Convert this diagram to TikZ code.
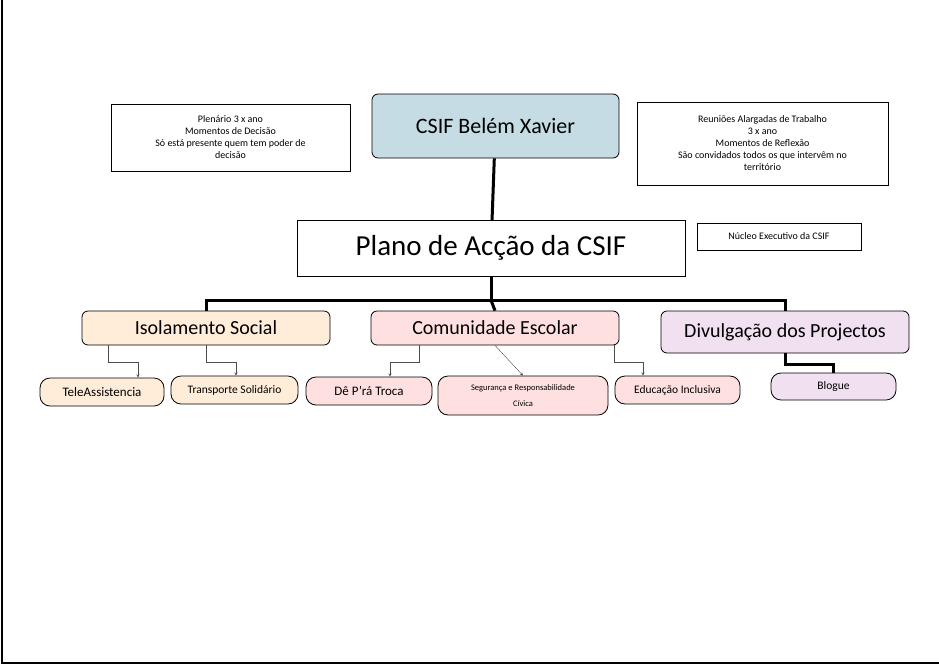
\documentclass[tikz,border=0pt]{standalone}
\usepackage{fontspec}
\setmainfont{Carlito}
\begin{document}
\begin{tikzpicture}[x=1pt,y=-1pt,
 box/.style={draw,thick,rounded corners=6pt,inner sep=0pt,align=center},
 rect/.style={draw,inner sep=0pt,align=center,font=\fontsize{10}{12}\selectfont},
 thin arrow/.style={draw=black!70,->,>=stealth},
 thick line/.style={line width=3pt}]
\useasboundingbox (0,0) rectangle (939,665);
\fill[white] (0,0) rectangle (939,665);
\draw[line width=2pt] (2,0) -- (2,663) -- (939,663);
\node[box,fill=cyan!15!teal!25,minimum width=247,minimum height=64,font=\fontsize{22}{26}\selectfont] (csif) at (495.5,126) {CSIF Belém Xavier};
\node[rect,minimum width=239,minimum height=67] (plen) at (230.5,137.5) {Plenário 3 x ano\\Momentos de Decisão\\Só está presente quem tem poder de\\decisão};
\node[rect,minimum width=251,minimum height=83] (reun) at (762.5,143.5) {Reuniões Alargadas de Trabalho\\3 x ano\\Momentos de Reflexão\\São convidados todos os que intervêm no\\território};
\node[draw,minimum width=388,minimum height=56,inner sep=0pt,font=\fontsize{29}{34}\selectfont] (plano) at (491,248) {Plano de Acção da CSIF};
\node[rect,minimum width=164,minimum height=27] (nuc) at (779,236.5) {Núcleo Executivo da CSIF};
\tikzset{mid/.style={box,minimum width=248,minimum height=34,font=\fontsize{20}{24}\selectfont}}
\node[mid,fill=orange!15] (iso) at (206,328) {Isolamento Social};
\node[mid,fill=red!12] (com) at (495,328) {Comunidade Escolar};
\node[mid,fill=violet!12,minimum height=42] (div) at (785,332) {Divulgação dos Projectos};
\tikzset{leaf/.style={box,rounded corners=10pt,minimum height=28,font=\fontsize{13}{15}\selectfont}}
\node[leaf,fill=orange!15,minimum width=124] (tele) at (102,392) {TeleAssistencia};
\node[leaf,fill=orange!15,minimum width=127,font=\fontsize{11.5}{14}\selectfont] (trans) at (234.5,390) {Transporte Solidário};
\node[leaf,fill=red!12,minimum width=126] (de) at (369,391) {Dê P’rá Troca};
\node[leaf,fill=red!12,minimum width=170,minimum height=39,font=\fontsize{8.5}{16}\selectfont] (seg) at (523,395.5) {Segurança e Responsabilidade\\Cívica};
\node[leaf,fill=red!12,minimum width=125,font=\fontsize{11.5}{14}\selectfont] (edu) at (677.5,390) {Educação Inclusiva};
\node[leaf,fill=violet!12,minimum width=125,minimum height=27,font=\fontsize{11.5}{14}\selectfont] (blog) at (833.5,386.5) {Blogue};
\draw[thick line] (csif) -- (plano);
\draw[thick line] (plano.south) -- ++(0,24) coordinate (j);
\draw[thick line] (iso.north) -- (206,300) -| (div.north);
\draw[thick line] (j) -- (com.north);
\draw[thin arrow] (108,345) |- (138,362) -- (tele.north -| 138,0);
\draw[thin arrow] (iso.south) |- (236,362) -- (trans.north -| 236,0);
\draw[thin arrow] (419,345) |- (390,362) -- (de.north -| 390,0);
\draw[thin arrow] (com.south) -- (seg.north);
\draw[thin arrow] (614,345) |- (643,362) -- (edu.north -| 643,0);
\draw[line width=3pt] (div.south) |- (blog.north |- 0,364) -- (blog.north);
\end{tikzpicture}
\end{document}
